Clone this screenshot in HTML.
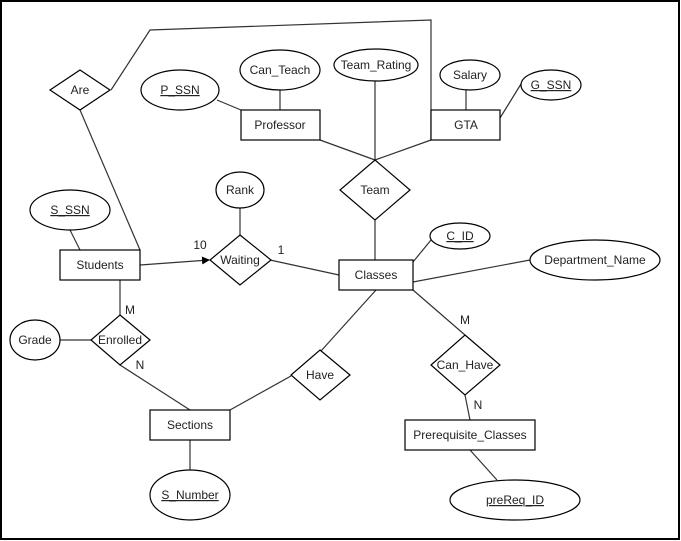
<!DOCTYPE html>
<html><head><meta charset="utf-8"><style>
html,body{margin:0;padding:0;background:#fff;}
svg{display:block;}
text{font-family:"Liberation Sans",Arial,sans-serif;font-size:12px;fill:#222;}
</style></head><body>
<svg width="681" height="541" viewBox="0 0 681 541" xmlns="http://www.w3.org/2000/svg">
<defs><marker id="ar" markerWidth="8" markerHeight="8" refX="7" refY="4" orient="auto" markerUnits="userSpaceOnUse"><path d="M0,0 L8,4 L0,8 Z" fill="#000"/></marker></defs>
<rect x="1" y="1" width="678" height="538" fill="#fff" stroke="#000" stroke-width="2"/>
<g stroke="#333" stroke-width="1.2" fill="none">
<polyline points="111,90 150,30 431,20 431,140"/>
<line x1="80" y1="110" x2="140" y2="250"/>
<line x1="217" y1="100" x2="241" y2="110"/>
<line x1="280" y1="90" x2="280" y2="110"/>
<line x1="375" y1="80" x2="375" y2="160"/>
<line x1="466" y1="90" x2="466" y2="110"/>
<line x1="521" y1="84" x2="500" y2="118"/>
<line x1="320" y1="140" x2="375" y2="160"/>
<line x1="431" y1="140" x2="375" y2="160"/>
<line x1="375" y1="220" x2="375" y2="260"/>
<line x1="240" y1="208" x2="240" y2="235"/>
<line x1="140" y1="265" x2="209" y2="260" marker-end="url(#ar)"/>
<line x1="270" y1="260" x2="339" y2="275"/>
<line x1="70" y1="230" x2="80" y2="250"/>
<line x1="413" y1="262" x2="431" y2="240"/>
<line x1="413" y1="282" x2="530" y2="260"/>
<line x1="120" y1="280" x2="120" y2="315"/>
<line x1="60" y1="340" x2="91" y2="340"/>
<line x1="120" y1="365" x2="190" y2="410"/>
<line x1="190" y1="440" x2="190" y2="470"/>
<line x1="230" y1="410" x2="291" y2="376"/>
<line x1="321" y1="351" x2="376" y2="290"/>
<line x1="413" y1="290" x2="465" y2="335"/>
<line x1="465" y1="395" x2="470" y2="420"/>
<line x1="470" y1="450" x2="497" y2="480"/>
</g>
<g stroke="#000" stroke-width="1.2" fill="#fff">
<polygon points="80,70 110,90 80,110 50,90"/>
<ellipse cx="180" cy="90" rx="39" ry="20"/>
<ellipse cx="280" cy="70" rx="40" ry="20"/>
<ellipse cx="376" cy="65" rx="42" ry="16"/>
<ellipse cx="470" cy="75" rx="30" ry="15"/>
<ellipse cx="551" cy="85" rx="30" ry="15"/>
<rect x="241" y="110" width="79" height="30"/>
<rect x="431" y="110" width="69" height="30"/>
<polygon points="375,160 410,190 375,220 340,190"/>
<ellipse cx="240" cy="190" rx="24" ry="18"/>
<polygon points="240,235 271,260 240,285 210,260"/>
<rect x="60" y="250" width="80" height="30"/>
<rect x="339" y="260" width="74" height="30"/>
<ellipse cx="70" cy="210" rx="40" ry="20"/>
<ellipse cx="460" cy="236" rx="30" ry="13"/>
<ellipse cx="595" cy="260" rx="65" ry="20"/>
<polygon points="120,315 150,340 120,365 91,340"/>
<ellipse cx="35" cy="340" rx="25" ry="20"/>
<rect x="150" y="410" width="80" height="30"/>
<ellipse cx="190" cy="495" rx="40" ry="25"/>
<polygon points="320,350 350,375 320,400 291,375"/>
<polygon points="465,335 500,365 465,395 431,365"/>
<rect x="405" y="420" width="130" height="30"/>
<ellipse cx="515" cy="500" rx="65" ry="20"/>
</g>
<g text-anchor="middle">
<text x="80" y="94">Are</text>
<text x="180" y="94" text-decoration="underline">P_SSN</text>
<text x="280" y="74">Can_Teach</text>
<text x="376" y="69">Team_Rating</text>
<text x="470" y="79">Salary</text>
<text x="551" y="89" text-decoration="underline">G_SSN</text>
<text x="280" y="129">Professor</text>
<text x="466" y="129">GTA</text>
<text x="375" y="194">Team</text>
<text x="240" y="194">Rank</text>
<text x="240" y="264">Waiting</text>
<text x="100" y="269">Students</text>
<text x="376" y="279">Classes</text>
<text x="70" y="214" text-decoration="underline">S_SSN</text>
<text x="460" y="240" text-decoration="underline">C_ID</text>
<text x="595" y="264">Department_Name</text>
<text x="120" y="344">Enrolled</text>
<text x="35" y="344">Grade</text>
<text x="190" y="429">Sections</text>
<text x="190" y="499" text-decoration="underline">S_Number</text>
<text x="320" y="379">Have</text>
<text x="465" y="369">Can_Have</text>
<text x="470" y="439">Prerequisite_Classes</text>
<text x="515" y="504" text-decoration="underline">preReq_ID</text>
<text x="200" y="249">10</text>
<text x="281" y="254">1</text>
<text x="130" y="314">M</text>
<text x="140" y="369">N</text>
<text x="465" y="324">M</text>
<text x="478" y="409">N</text>
</g>
</svg>
</body></html>
